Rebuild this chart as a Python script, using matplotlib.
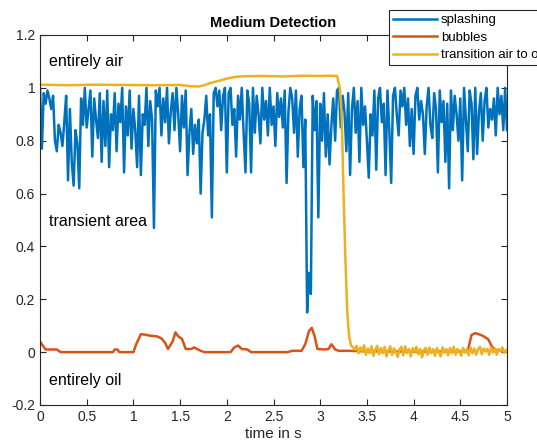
import numpy as np
from matplotlib import pyplot as plt

plt.rcParams['font.family'] = ['Liberation Sans', 'DejaVu Sans']

# splashing signal, sampled every 0.02 s from 0 to 5 s
splash_t = np.linspace(0, 5, 251)
splash = [1.00, 0.77, 0.98, 0.94, 0.99, 0.96, 0.92, 0.97, 0.80, 0.76,
          0.86, 0.83, 0.78, 0.87, 0.97, 0.65, 0.92, 0.72, 0.63, 0.84,
          0.79, 0.62, 0.96, 0.86, 1.00, 0.85, 0.92, 0.99, 0.74, 0.96,
          0.88, 0.81, 0.98, 0.72, 0.95, 0.78, 0.99, 0.70, 0.90, 0.84,
          0.98, 0.76, 0.94, 0.87, 1.00, 0.68, 0.93, 0.82, 0.99, 0.77,
          0.92, 0.84, 0.70, 0.97, 0.67, 0.90, 0.86, 1.00, 0.78, 0.95,
          0.88, 0.47, 0.99, 0.93, 1.00, 0.82, 0.96, 0.87, 1.00, 0.79,
          0.91, 0.98, 0.84, 1.00, 0.90, 0.76, 0.97, 0.85, 0.99, 0.67,
          0.83, 0.92, 0.75, 0.86, 0.79, 0.88, 0.60, 0.83, 0.88, 0.97,
          0.82, 0.90, 0.51, 0.98, 1.00, 0.93, 0.99, 0.84, 0.97, 1.00,
          0.68, 0.98, 1.00, 0.86, 0.92, 0.74, 0.97, 0.88, 1.00, 0.83,
          0.68, 0.99, 0.94, 0.68, 1.00, 0.83, 0.97, 0.90, 0.79, 1.00,
          0.88, 0.95, 0.82, 1.00, 0.86, 0.93, 0.78, 0.98, 0.89, 0.96,
          0.85, 0.99, 0.64, 0.91, 1.00, 0.96, 0.83, 0.99, 0.74, 0.92,
          0.97, 0.70, 0.88, 0.15, 0.30, 0.22, 0.97, 0.84, 0.95, 0.51,
          0.94, 0.80, 0.98, 0.74, 0.90, 0.71, 0.86, 0.96, 0.80, 0.99,
          1.00, 0.85, 0.97, 0.91, 0.76, 0.98, 0.67, 0.92, 1.00, 0.83,
          0.95, 0.72, 1.00, 0.86, 0.93, 0.80, 0.66, 0.90, 0.82, 0.99,
          0.69, 0.96, 1.00, 0.87, 0.94, 0.67, 0.99, 0.84, 0.64, 0.97,
          1.00, 0.90, 0.82, 0.99, 0.93, 1.00, 0.86, 0.96, 0.78, 0.92,
          0.75, 0.97, 1.00, 0.88, 0.95, 0.90, 0.75, 0.93, 1.00, 0.86,
          0.81, 0.98, 0.92, 0.68, 0.99, 0.87, 0.95, 0.72, 0.94, 0.62,
          0.99, 0.84, 0.97, 0.90, 0.80, 0.96, 0.65, 1.00, 0.88, 0.76,
          0.99, 0.94, 0.73, 1.00, 0.75, 0.91, 0.98, 0.80, 0.95, 1.00,
          0.85, 0.92, 0.88, 0.96, 0.82, 1.00, 0.90, 0.97, 0.84, 1.00, 0.84]

# bubbles signal
bub_t = [0.00, 0.02, 0.06, 0.18, 0.20, 0.22, 0.40, 0.78, 0.80, 0.83, 0.85, 0.90,
         1.00, 1.03, 1.08, 1.13, 1.18, 1.25, 1.30, 1.34, 1.37, 1.42, 1.45, 1.48,
         1.52, 1.56, 1.62, 1.65, 1.68, 1.72, 1.76, 2.04, 2.08, 2.12, 2.16, 2.22,
         2.26, 2.65, 2.70, 2.80, 2.84, 2.88, 2.91, 2.94, 2.97, 3.05, 3.09, 3.12,
         3.16, 3.20, 3.30, 3.50, 4.00, 4.50, 4.58, 4.62, 4.66, 4.72, 4.76, 4.80,
         4.84, 4.88, 4.95, 5.00]
bubbles = [0.040, 0.030, 0.010, 0.010, 0.005, 0.000, 0.000, 0.000, 0.010, 0.010, 0.000, 0.000,
           0.000, 0.030, 0.068, 0.066, 0.062, 0.060, 0.052, 0.035, 0.012, 0.040, 0.075, 0.060,
           0.050, 0.012, 0.012, 0.018, 0.012, 0.005, 0.000, 0.000, 0.018, 0.025, 0.012, 0.010,
           0.000, 0.000, 0.005, 0.005, 0.030, 0.080, 0.092, 0.060, 0.012, 0.010, 0.012, 0.030,
           0.010, 0.005, 0.005, 0.003, 0.002, 0.003, 0.005, 0.065, 0.072, 0.065, 0.058, 0.048,
           0.020, 0.008, 0.005, 0.002]

# transition air to oil
air_t = [0.00, 0.30, 0.60, 0.90, 1.20, 1.50, 1.62, 1.70, 1.76, 1.82, 1.90, 2.00,
         2.10, 2.20, 2.40, 2.60, 2.80, 3.00, 3.10, 3.18, 3.21, 3.23, 3.25, 3.27,
         3.29, 3.31, 3.33, 3.35,
         3.37, 3.39, 3.41, 3.43, 3.45, 3.47, 3.49, 3.51, 3.53, 3.55, 3.57, 3.59,
         3.61, 3.63, 3.65, 3.67, 3.69, 3.71, 3.73, 3.75, 3.77, 3.79, 3.81, 3.83,
         3.85, 3.87, 3.89, 3.91, 3.93, 3.95, 3.97, 3.99, 4.01, 4.03, 4.05, 4.07,
         4.09, 4.11, 4.13, 4.15, 4.17, 4.19, 4.21, 4.23, 4.25, 4.27, 4.29, 4.31,
         4.33, 4.35, 4.37, 4.39, 4.41, 4.43, 4.45, 4.47, 4.49, 4.51, 4.53, 4.55,
         4.57, 4.59, 4.61, 4.63, 4.65, 4.67, 4.69, 4.71, 4.73, 4.75, 4.77, 4.79,
         4.81, 4.83, 4.85, 4.87, 4.89, 4.91, 4.93, 4.95, 4.97, 5.00]
air = [1.012, 1.010, 1.012, 1.011, 1.010, 1.011, 1.006, 1.005, 1.010, 1.018, 1.025, 1.035,
       1.042, 1.044, 1.045, 1.043, 1.046, 1.045, 1.046, 1.045, 1.000, 0.900, 0.600, 0.350,
       0.150, 0.060, 0.025, 0.018,
       0.010, 0.024, -0.004, 0.018, 0.002, 0.026, -0.010, 0.014, -0.004, 0.022, -0.014, 0.010,
       0.024, -0.008, 0.016, -0.004, 0.020, -0.016, 0.008, 0.022, -0.010, 0.014, 0.000, -0.018,
       0.012, 0.020, -0.012, 0.022, -0.004, 0.012, -0.016, 0.016, 0.002, 0.020, -0.008, 0.012,
       -0.020, 0.008, 0.016, -0.010, 0.018, -0.004, 0.012, -0.014, 0.016, 0.000, -0.016, 0.018,
       -0.002, 0.012, -0.012, 0.016, -0.004, 0.020, -0.010, 0.012, 0.004, -0.014, 0.016, -0.002,
       0.012, -0.012, 0.018, -0.004, 0.014, -0.010, 0.012, 0.020, -0.008, 0.014, 0.002, 0.012,
       -0.010, 0.018, -0.002, 0.014, -0.010, 0.012, 0.004, 0.018, -0.004, 0.010]

col_splash = (0.0, 0.447, 0.741)
col_bub = (0.85, 0.325, 0.098)
col_air = (0.929, 0.694, 0.125)
axcol = (0.15, 0.15, 0.15)

fig = plt.figure(figsize=(5.37, 4.48), dpi=100)
ax = fig.add_axes([40/537, 1 - 405/448, 467/537, 370/448])

ax.plot(splash_t, splash, color=col_splash, lw=1.8, label='splashing')
ax.plot(bub_t, bubbles, color=col_bub, lw=1.8, label='bubbles')
ax.plot(air_t, air, color=col_air, lw=1.8, label='transition air to oil')

ax.set_xlim(0, 5)
ax.set_ylim(-0.2, 1.2)
ax.set_xticks(np.arange(0, 5.01, 0.5))
ax.set_xticklabels(['0', '0.5', '1', '1.5', '2', '2.5', '3', '3.5', '4', '4.5', '5'])
ax.set_yticks(np.arange(-0.2, 1.21, 0.2))
ax.set_yticklabels(['-0.2', '0', '0.2', '0.4', '0.6', '0.8', '1', '1.2'])
ax.tick_params(direction='in', top=True, right=True, length=4, width=0.8,
               colors=axcol, labelsize=10, labelcolor=axcol)
for s in ax.spines.values():
    s.set_color(axcol)
    s.set_linewidth(0.8)

ax.set_xlabel('time in s', fontsize=11, color=axcol, labelpad=2)
ax.set_title('Medium Detection', fontsize=10.5, fontweight='bold', pad=6)

ax.text(0.1, 1.098, 'entirely air', fontsize=11.5, va='center', color='black')
ax.text(0.1, 0.496, 'transient area', fontsize=11.5, va='center', color='black')
ax.text(0.1, -0.109, 'entirely oil', fontsize=11.5, va='center', color='black')

leg = ax.legend(loc='upper left', bbox_to_anchor=(389/537, 1 - 10/448),
                bbox_transform=fig.transFigure, fontsize=9.5, frameon=True,
                fancybox=False, framealpha=1, edgecolor=axcol, borderpad=0.3,
                handlelength=3.3, handletextpad=0.35, labelspacing=0.4,
                borderaxespad=0)
leg.get_frame().set_linewidth(0.8)

fig.savefig('out.png', dpi=100)
